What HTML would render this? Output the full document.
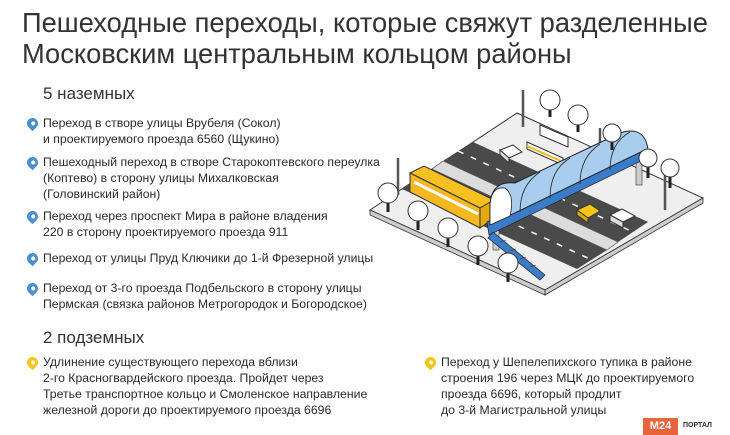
<!DOCTYPE html>
<html><head><meta charset="utf-8"><style>
body{margin:0;width:730px;height:435px;background:#fff;font-family:"Liberation Sans","DejaVu Sans",sans-serif;color:#2a2a2a;position:relative;overflow:hidden}
.t{position:absolute;left:22px;top:7px;font-size:27.3px;line-height:31px;color:#333;white-space:nowrap}
.h{position:absolute;font-size:17px;color:#333}
.i{position:absolute;font-size:12.25px;line-height:16px;white-space:nowrap}
.p{position:absolute;width:11px;height:11px;border-radius:50% 50% 50% 0;transform:rotate(-45deg);}
.p::after{content:"";position:absolute;left:3.5px;top:3.5px;width:4px;height:4px;border-radius:50%;background:#fff}
.b{background:#4a90d0}.y{background:#f5c518}
</style></head><body>
<div class="t">Пешеходные переходы, которые свяжут разделенные<br>Московским центральным кольцом районы</div>
<div class="h" style="left:43px;top:84px">5 наземных</div>
<div class="p b" style="left:27px;top:118px"></div>
<div class="i" style="left:43px;top:115px">Переход в створе улицы Врубеля (Сокол)<br>и проектируемого проезда 6560 (Щукино)</div>
<div class="p b" style="left:27px;top:157px"></div>
<div class="i" style="left:43px;top:154px">Пешеходный переход в створе Старокоптевского переулка<br>(Коптево) в сторону улицы Михалковская<br>(Головинский район)</div>
<div class="p b" style="left:27px;top:211px"></div>
<div class="i" style="left:43px;top:208px">Переход через проспект Мира в районе владения<br>220 в сторону проектируемого проезда 911</div>
<div class="p b" style="left:27px;top:253px"></div>
<div class="i" style="left:43px;top:250px">Переход от улицы Пруд Ключики до 1-й Фрезерной улицы</div>
<div class="p b" style="left:27px;top:283px"></div>
<div class="i" style="left:43px;top:280px">Переход от 3-го проезда Подбельского в сторону улицы<br>Пермская (связка районов Метрогородок и Богородское)</div>
<div class="h" style="left:43px;top:328px">2 подземных</div>
<div class="p y" style="left:27px;top:357px"></div>
<div class="i" style="left:43px;top:354px">Удлинение существующего перехода вблизи<br>2-го Красногвардейского проезда. Пройдет через<br>Третье транспортное кольцо и Смоленское направление<br>железной дороги до проектируемого проезда 6696</div>
<div class="p y" style="left:425px;top:357px"></div>
<div class="i" style="left:441px;top:354px">Переход у Шепелепихского тупика в районе<br>строения 196 через МЦК до проектируемого<br>проезда 6696, который продлит<br>до 3-й Магистральной улицы</div>
<div style="position:absolute;left:643px;top:418px;width:35px;height:17px;background:#e8643c;color:#fff;font-size:11px;font-weight:bold;text-align:center;line-height:17px">M24</div>
<div style="position:absolute;left:683px;top:422px;font-size:7px;font-weight:bold">ПОРТАЛ</div>
<svg style="position:absolute;left:0;top:0" width="730" height="435">
<polygon points="370,210 517,113 703,198 545,290" fill="#efefef" stroke="#333" stroke-width="1"/>
<polygon points="370,210 545,290 545,295 370,215" fill="#ccc" stroke="#333" stroke-width="0.8"/>
<polygon points="545,290 703,198 703,203 545,295" fill="#ccc" stroke="#333" stroke-width="0.8"/>
<polygon points="402,189 577,269 607,250 432,169" fill="#4a4a4a"/>
<polygon points="443,161 618,242 648,222 473,142" fill="#4a4a4a"/>
<polygon points="432,169 607,250 618,242 443,161" fill="#dcdcdc" stroke="#555" stroke-width="0.6"/>
<g stroke="#fff" stroke-width="1.5" stroke-dasharray="6 8"><line x1="417" y1="179" x2="592" y2="260"/><line x1="458" y1="151" x2="633" y2="232"/></g>
<g stroke="#555" stroke-width="2.5"><line x1="523" y1="90" x2="523" y2="127"/><line x1="398" y1="158" x2="398" y2="195"/><line x1="600" y1="128" x2="600" y2="150"/><line x1="665" y1="175" x2="665" y2="210"/></g>
<polygon points="540,125 568,137 568,147 540,135" fill="#fff" stroke="#333"/>
<polygon points="527,142 563,158 563,165 527,149" fill="#fff" stroke="#333"/>
<line x1="527" y1="146" x2="563" y2="162" stroke="#f5b820" stroke-width="2"/>
<polygon points="500,150 513,145 522,152 509,158" fill="#fff" stroke="#333"/>
<polygon points="500,150 509,158 509,163 500,155" fill="#ddd" stroke="#333"/>
<polygon points="410,173 424,166 494,200 480,208" fill="#f5c020" stroke="#333"/>
<polygon points="410,173 480,208 480,228 410,192" fill="#f5b820" stroke="#333"/>
<polygon points="480,208 494,200 494,218 480,228" fill="#e8a810" stroke="#333"/>
<line x1="414" y1="182" x2="478" y2="214" stroke="#fff" stroke-width="3"/>
<polygon points="577,210 590,204 600,211 588,218" fill="#f5c518" stroke="#333"/>
<polygon points="577,210 588,218 588,223 577,215" fill="#e0a800" stroke="#333"/>
<polygon points="610,215 622,209 635,216 623,222" fill="#fff" stroke="#333"/>
<polygon points="610,215 623,222 623,228 610,221" fill="#ddd" stroke="#333"/>
<g fill="#ccc" stroke="#333" stroke-width="0.6"><rect x="493" y="228" width="6" height="22"/><rect x="636" y="160" width="6" height="25"/></g>
<polygon points="487,222 645,147 647,158 489,235" fill="#3a7cc8" stroke="#222" stroke-width="0.7"/>
<polygon points="493,232 545,275 540,280 488,238" fill="#3a7cc8" stroke="#222" stroke-width="0.7"/>
<g stroke="#333" stroke-width="0.6"><line x1="500" y1="242" x2="506" y2="240"/><line x1="510" y1="251" x2="516" y2="249"/><line x1="520" y1="259" x2="526" y2="257"/><line x1="530" y1="267" x2="536" y2="265"/></g>
<path d="M490,225 L490,208 Q490,180 515,183 L620,133 Q645,125 648,150 L645,150 L490,225 Z" fill="#a9cdee" stroke="#222" stroke-width="1"/>
<g fill="none" stroke="#222" stroke-width="0.8"><path d="M520,212 Q520,185 540,172"/><path d="M550,198 Q550,170 570,158"/><path d="M580,184 Q580,157 600,144"/><path d="M610,170 Q610,143 630,132"/></g>
<path d="M490,225 L490,208 Q490,186 505,188 Q515,195 510,216 Z" fill="#fff" stroke="#222" stroke-width="0.8"/>
<g stroke="#222" stroke-width="3"><line x1="388" y1="200" x2="388" y2="212"/><line x1="418" y1="218" x2="418" y2="230"/><line x1="448" y1="235" x2="448" y2="247"/><line x1="478" y1="253" x2="478" y2="265"/><line x1="508" y1="270" x2="508" y2="282"/>
<line x1="550" y1="107" x2="550" y2="117"/><line x1="578" y1="122" x2="578" y2="132"/><line x1="612" y1="140" x2="612" y2="150"/><line x1="648" y1="165" x2="648" y2="178"/><line x1="670" y1="175" x2="670" y2="188"/></g>
<g fill="#fff" stroke="#333">
<circle cx="388" cy="193" r="10"/><circle cx="418" cy="211" r="10"/><circle cx="448" cy="228" r="10"/><circle cx="478" cy="246" r="10"/><circle cx="508" cy="263" r="10"/>
<circle cx="550" cy="100" r="10"/><circle cx="578" cy="115" r="10"/><circle cx="612" cy="133" r="9"/><circle cx="648" cy="158" r="9"/><circle cx="670" cy="168" r="9"/>
</g>
</svg>
</body></html>
